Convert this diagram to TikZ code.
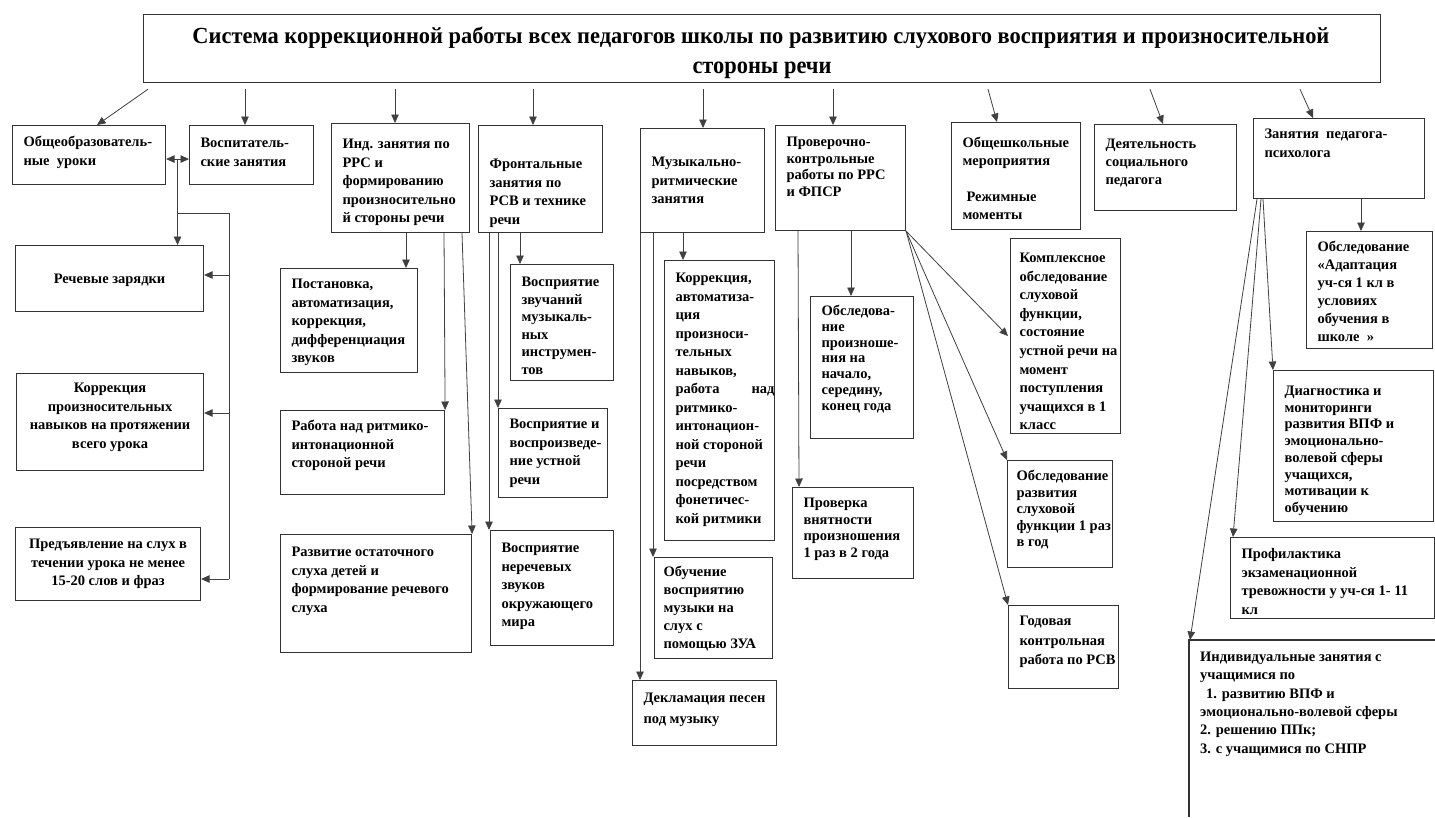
\documentclass[tikz,border=0pt]{standalone}
\usepackage{fontspec}
\setmainfont{Liberation Serif}
\usepackage{graphicx}
\usetikzlibrary{arrows.meta,calc}
\tikzset{
  bxs/.style={draw=black!80,line width=1.1pt,inner sep=0pt},
  con/.style={draw=black!75,line width=0.8pt},
  arr/.style={con,-{Triangle[length=8.5pt,width=7.5pt]}},
  darr/.style={con,{Triangle[length=8.5pt,width=7.5pt]}-{Triangle[length=8.5pt,width=7.5pt]}},
}
\def\bxfs{14.5}
\newcommand\bxL{\raggedright\leftskip=11pt\relax}
\newcommand\bxLn{\raggedright\leftskip=9pt\relax}
\newcommand\bxC{\centering}
% name, x1, y1, x2, y2, first-baseline offset, baselineskip, alignment, text
\newcommand\bx[9]{%
  \pgfmathsetmacro\bxw{#4-#2}%
  \pgfmathsetmacro\bxh{#5-#3}%
  \node[bxs,anchor=north west] (#1) at (#2pt,-#3pt)
  {\parbox[t][\bxh pt][t]{\bxw pt}{\fontsize{\bxfs}{#7}\selectfont\bfseries\lineskiplimit=-50pt #8\vspace*{\dimexpr#6pt-0.7\baselineskip\relax}\strut #9}};%
}
\begin{document}
\begin{tikzpicture}
\fill[white] (0,0) rectangle (1435pt,-817pt);
\useasboundingbox (0,0) rectangle (1435pt,-817pt);

% title
\node[bxs,line width=1.2pt,anchor=north west,minimum width=1237pt,minimum height=68pt] (Ttl) at (143pt,-14pt) {};
\node[anchor=base,inner sep=0pt] (Ttl1) at (761pt,-43pt) {\resizebox{1137pt}{16.5pt}{\fontsize{24}{28}\selectfont\bfseries Система коррекционной работы всех педагогов школы по развитию слухового восприятия и произносительной}};
\node[anchor=base,inner sep=0pt] (Ttl2) at (762pt,-73pt) {\resizebox{139pt}{11.5pt}{\fontsize{24}{28}\selectfont\bfseries стороны речи}};

% left column
\bx{A}{12}{125}{165}{184}{21}{19}{\bxL}{Общеобразователь-\\ные\ \ уроки}
\bx{B}{189}{125}{313}{184}{22}{19}{\bxL}{Воспитатель-\\ские занятия}
\bx{C}{15}{245}{203}{311}{38}{19}{\bxC}{Речевые зарядки}
\bx{D}{16}{373}{203}{470}{19}{18.7}{\bxC}{Коррекция\\произносительных\\навыков на протяжении\\всего урока}
\bx{E}{15}{527}{200}{600}{21}{18.5}{\bxC}{Предъявление на слух в\\течении урока не менее\\15-20 слов и фраз}

% individual lessons
\bx{F}{331}{123}{469}{232}{25}{18.5}{\bxL}{Инд. занятия по\\РРС и\\формированию\\произносительно\\й стороны речи}
\bx{G}{280}{268}{417}{372}{20}{18.5}{\bxL}{Постановка,\\автоматизация,\\коррекция,\\дифференциация\\звуков}
\bx{H}{280}{410}{444}{494}{20}{18.5}{\bxL}{Работа над ритмико-\\интонационной\\стороной речи}
\bx{I}{280}{534}{471}{652}{22}{18.5}{\bxL}{Развитие остаточного\\слуха детей и\\формирование речевого\\слуха}

% frontal lessons
\bx{J}{478}{125}{602}{232}{43}{18.5}{\bxL}{Фронтальные\\занятия по\\РСВ и технике\\речи}
\bx{K}{510}{264}{613}{380}{22}{17.5}{\bxL}{Восприятие\\звучаний\\музыкаль-\\ных\\инструмен-\\тов}
\bx{L}{498}{408}{607}{497}{20}{18.5}{\bxL}{Восприятие и\\воспроизведе-\\ние устной\\речи}
\bx{M}{490}{530}{613}{645}{22}{18.5}{\bxL}{Восприятие\\неречевых\\звуков\\окружающего\\мира}

% music
\bx{N}{640}{128}{764}{232}{38}{18.5}{\bxL}{Музыкально-\\ритмические\\занятия}
\bx{O}{664}{260}{774}{540}{22}{18.5}{\bxL}{Коррекция,\\автоматиза-\\ция\\произноси-\\тельных\\навыков,\\работа\hfill над\\ритмико-\\интонацион-\\ной стороной\\речи\\посредством\\фонетичес-\\кой ритмики}
\bx{Ob}{654}{557}{772}{658}{19}{18}{\bxLn}{Обучение\\восприятию\\музыки на\\слух с\\помощью ЗУА}
\bx{Dk}{632}{680}{776}{745}{22}{21}{\bxL}{Декламация песен\\под музыку}

% tests
\bx{P}{775}{125}{905}{230}{21}{16.7}{\bxL}{Проверочно-\\контрольные\\работы по РРС\\и ФПСР}
\bx{Obsl}{810}{296}{913}{438}{19}{15.8}{\bxL}{Обследова-\\ние\\произноше-\\ния на\\начало,\\середину,\\конец года}
\bx{Prov}{792}{487}{913}{578}{20}{16.5}{\bxL}{Проверка\\внятности\\произношения\\1 раз в 2 года}
\bx{Komp}{1010}{238}{1120}{433}{24}{18.6}{\bxLn}{Комплексное\\обследование\\слуховой\\функции,\\состояние\\устной речи на\\момент\\поступления\\учащихся в 1\\класс}
\bx{OR}{1007}{460}{1112}{567}{20}{16.5}{\bxLn}{Обследование\\развития\\слуховой\\функции 1 раз\\в год}
\bx{God}{1008}{605}{1118}{688}{20}{19.5}{\bxL}{Годовая\\контрольная\\работа по РСВ}

% school-wide, social
\bx{Q}{951}{122}{1080}{229}{25}{18}{\bxL}{Общешкольные\\мероприятия\\[18pt]\hspace*{4pt}Режимные\\моменты}
\bx{R}{1094}{124}{1236}{210}{24}{18}{\bxL}{Деятельность\\социального\\педагога}

% psychologist
\bx{S}{1253}{118}{1424}{198}{20}{18.5}{\bxL}{Занятия\ \ педагога-\\психолога}
\bx{Ad}{1306}{231}{1432}{348}{20}{18}{\bxL}{Обследование\\«Адаптация\\уч-ся 1 кл в\\условиях\\обучения в\\школе\ \ »}
\bx{U}{1273}{370}{1433}{521}{25}{16.7}{\bxL}{Диагностика и\\мониторинги\\развития ВПФ и\\эмоционально-\\волевой сферы\\учащихся,\\мотивации к\\обучению}
\bx{V}{1230}{537}{1434}{618}{21}{18.5}{\bxL}{Профилактика\\экзаменационной\\тревожности у уч-ся 1- 11\\кл}
\node[inner sep=0pt,anchor=north west] (W) at (1189pt,-640pt)
  {\parbox[t][177pt][t]{246pt}{\fontsize{14.5}{18.4}\selectfont\bfseries\bxL\vspace*{\dimexpr21pt-0.7\baselineskip\relax}\strut Индивидуальные занятия с\\учащимися по\\\hspace*{6pt}1. развитию ВПФ и\\эмоционально-волевой сферы\\2. решению ППк;\\3. с учащимися по СНПР}};
\draw[bxs] (W.south west) -- (W.north west) -- (W.north east);

% arrows from title
\draw[arr] ([shift={(5pt,-6pt)}]Ttl.south west) -- ([xshift=85pt]A.north west);
\draw[arr] ([shift={(102pt,-6pt)}]Ttl.south west) -- ([xshift=56pt]B.north west);
\draw[arr] ([shift={(252pt,-6pt)}]Ttl.south west) -- ([xshift=64pt]F.north west);
\draw[arr] ([shift={(390pt,-6pt)}]Ttl.south west) -- ([xshift=55pt]J.north west);
\draw[arr] ([shift={(560pt,-6pt)}]Ttl.south west) -- ([xshift=63pt]N.north west);
\draw[arr] ([shift={(690pt,-6pt)}]Ttl.south west) -- ([xshift=58pt]P.north west);
\draw[arr] ([shift={(845pt,-6pt)}]Ttl.south west) -- ([xshift=46pt]Q.north west);
\draw[arr] ([shift={(1007pt,-6pt)}]Ttl.south west) -- ([xshift=69pt]R.north west);
\draw[arr] ([shift={(1157pt,-6pt)}]Ttl.south west) -- ([xshift=60pt]S.north west);

% left column connectors
\coordinate (ab) at ($([yshift=-4pt]A.east)!0.5!([yshift=-4pt]B.west)$);
\draw[darr] ([yshift=-4pt]A.east) -- ([yshift=-4pt]B.west);
\draw[arr] (ab) -- (ab |- C.north);
\coordinate (bus) at (229pt,-213pt);
\coordinate (bC) at (229pt,-275pt);
\coordinate (bD) at (229pt,-413pt);
\coordinate (bE) at (229pt,-579pt);
\draw[con] (ab |- bus) -- (bus) -- (bE);
\draw[arr] (bC) -- (bC -| C.east);
\draw[arr] (bD) -- (bD -| D.east);
\draw[arr] (bE) -- (bE -| E.east);

% F connectors
\draw[arr] ([xshift=75pt]F.south west) -- ([xshift=126pt]G.north west);
\draw[arr] ([xshift=113pt]F.south west) -- (H.north east);
\draw[arr] ([xshift=131pt]F.south west) -- (I.north east);

% J connectors
\draw[arr] ([xshift=42pt]J.south west) -- ([xshift=10pt]K.north west);
\draw[arr] ([xshift=20pt]J.south west) -- (L.north west);
\draw[arr] ([xshift=11pt]J.south west) -- ([xshift=-1pt]M.north west);

% N connectors
\draw[arr] ([xshift=43pt]N.south west) -- ([xshift=19pt]O.north west);
\draw[arr] ([xshift=13pt]N.south west) -- ([xshift=-1pt]Ob.north west);
\draw[arr] (N.south west) -- (N.south west |- Dk.north);

% P connectors
\draw[arr] ([xshift=76pt]P.south west) -- ([xshift=41pt]Obsl.north west);
\draw[arr] ([xshift=23pt]P.south west) -- ([xshift=7pt]Prov.north west);
\draw[arr] (P.south east) -- ([xshift=-2pt]Komp.west);
\draw[arr] (P.south east) -- (OR.north west);
\draw[arr] (P.south east) -- (God.north west);

% S connectors
\draw[arr] ([xshift=108pt]S.south west) -- ([xshift=55pt]Ad.north west);
\draw[arr] ([xshift=10pt]S.south west) -- (U.north west);
\draw[arr] ([xshift=8pt]S.south west) -- ([xshift=3pt]V.north west);
\draw[arr] ([xshift=4pt]S.south west) -- ([xshift=1pt]W.north west);
\end{tikzpicture}
\end{document}
